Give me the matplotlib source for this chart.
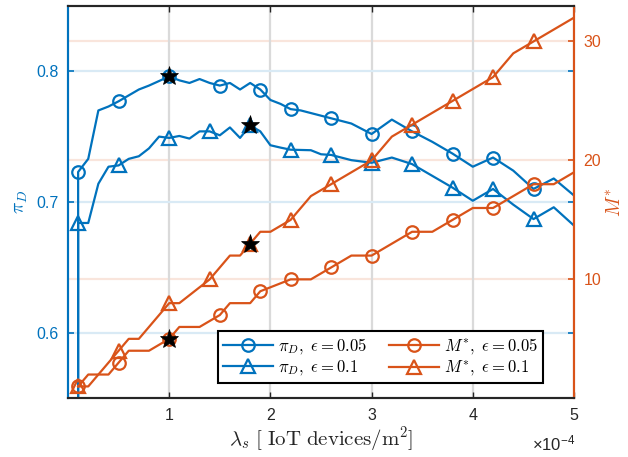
import matplotlib
matplotlib.use('Agg')
import matplotlib.pyplot as plt
from matplotlib.transforms import blended_transform_factory

plt.rcParams['font.family'] = ['Liberation Sans', 'DejaVu Sans']
plt.rcParams['mathtext.fontset'] = 'cm'

BLUE = '#0072BD'
ORANGE = '#D95319'
DARK = '#262626'

# lambda_s in units of 1e-4 IoT devices/m^2 (line vertices)
lam_pi05 = [0.1, 0.1, 0.2, 0.3, 0.4, 0.5, 0.7, 0.8, 1.0, 1.1, 1.2, 1.3, 1.4, 1.5, 1.6, 1.7, 1.8,
            1.9, 2.0, 2.1, 2.2, 2.3, 2.4, 2.6, 2.8, 3.0, 3.2, 3.4, 3.6, 3.8, 4.0, 4.2, 4.4, 4.6,
            4.8, 5.0]
pi05 = [0.45, 0.723, 0.733, 0.770, 0.773, 0.777, 0.786, 0.789, 0.796, 0.793, 0.791, 0.794, 0.791,
        0.789, 0.791, 0.786, 0.791, 0.786, 0.778, 0.775, 0.771, 0.770, 0.768, 0.764, 0.760, 0.752,
        0.763, 0.754, 0.746, 0.737, 0.727, 0.734, 0.724, 0.710, 0.718, 0.705]

lam_pi1 = [0.1, 0.1, 0.2, 0.3, 0.4, 0.5, 0.6, 0.7, 0.8, 0.9, 1.0, 1.1, 1.2, 1.3, 1.4, 1.5, 1.6,
           1.7, 1.8, 1.9, 2.0, 2.1, 2.2, 2.4, 2.5, 2.6, 2.8, 3.0, 3.2, 3.4, 3.6, 3.8, 4.0, 4.2,
           4.4, 4.6, 4.8, 5.0]
pi1 = [0.45, 0.684, 0.684, 0.714, 0.727, 0.728, 0.733, 0.735, 0.741, 0.750, 0.749, 0.7505, 0.7485,
       0.754, 0.754, 0.751, 0.757, 0.749, 0.7586, 0.754, 0.7434, 0.7416, 0.740, 0.7396, 0.7365,
       0.736, 0.732, 0.730, 0.734, 0.729, 0.720, 0.711, 0.701, 0.710, 0.698, 0.687, 0.696, 0.682]

lam_M05 = [0.1, 0.2, 0.4, 0.5, 0.6, 0.8, 1.0, 1.1, 1.3, 1.5, 1.6, 1.8, 1.9, 2.2, 2.4, 2.6, 2.8,
           3.0, 3.2, 3.4, 3.6, 3.8, 4.0, 4.2, 4.4, 4.6, 4.8, 5.0]
M05 = [1, 2, 2, 3, 4, 4, 5, 6, 6, 7, 8, 8, 9, 10, 10, 11, 12, 12, 13, 14, 14, 15, 16, 16, 17, 18,
       18, 19]

lam_M1 = [0.1, 0.2, 0.5, 0.6, 0.7, 1.0, 1.1, 1.4, 1.6, 1.7, 1.8, 1.9, 2.0, 2.2, 2.4, 2.6, 3.0,
          3.2, 3.4, 3.8, 4.2, 4.4, 4.6, 5.0]
M1 = [1, 1, 4, 5, 5, 8, 8, 10, 12, 12, 13, 14, 14, 15, 17, 18, 20, 22, 23, 25, 27, 29, 30, 32]

# where the markers sit
mark05 = [0.1, 0.5, 1.0, 1.5, 1.9, 2.2, 2.6, 3.0, 3.4, 3.8, 4.2, 4.6]
mark1 = [0.1, 0.5, 1.0, 1.4, 1.8, 2.2, 2.6, 3.0, 3.4, 3.8, 4.2, 4.6]

# optimum points (stars)
star05 = 1.0
star1 = 1.8


def idx(lams, marks):
    return [i for i, l in enumerate(lams) if l in marks]


fig = plt.figure(figsize=(6.28, 4.57), dpi=100)
ax1 = fig.add_axes([0.1083, 0.1284, 0.8057, 0.859])
ax2 = ax1.twinx()

lw = 1.6
ms = 9
h1, = ax1.plot(lam_pi05, pi05, color=BLUE, lw=lw, marker='o', ms=ms, mfc='none', mew=1.6,
               markevery=idx(lam_pi05, mark05), label=r'$\pi_D,\ \epsilon=0.05$')
h2, = ax1.plot(lam_pi1, pi1, color=BLUE, lw=lw, marker='^', ms=ms + 1, mfc='none', mew=1.6,
               markevery=idx(lam_pi1, mark1), label=r'$\pi_D,\ \epsilon=0.1$')
h3, = ax2.plot(lam_M05, M05, color=ORANGE, lw=lw, marker='o', ms=ms, mfc='none', mew=1.6,
               markevery=idx(lam_M05, mark05), label=r'$M^{*},\ \epsilon=0.05$')
h4, = ax2.plot(lam_M1, M1, color=ORANGE, lw=lw, marker='^', ms=ms + 1, mfc='none', mew=1.6,
               markevery=idx(lam_M1, mark1), label=r'$M^{*},\ \epsilon=0.1$')

ax1.plot([star05, star1], [pi05[lam_pi05.index(star05)], pi1[lam_pi1.index(star1)]],
         ls='none', marker='*', ms=14, color='black', mec='black', mew=0.5, zorder=5)
ax2.plot([star05, star1], [M05[lam_M05.index(star05)], M1[lam_M1.index(star1)]],
         ls='none', marker='*', ms=14, color='black', mec='black', mew=0.5, zorder=5)

ax1.set_xlim(0, 5)
ax1.set_ylim(0.55, 0.85)
ax2.set_ylim(0, 33)
ax1.set_xticks([1, 2, 3, 4, 5])
ax1.set_yticks([0.6, 0.7, 0.8])
ax2.set_yticks([10, 20, 30])

# grids: gray vertical, blue for left ticks, orange for right ticks (all behind the data)
ax1.grid(axis='x', color='#dadada', lw=1.6, zorder=0)
ax1.grid(axis='y', color='#d9eaf5', lw=1.6, zorder=0)
trans = blended_transform_factory(ax1.transAxes, ax2.transData)
for m in [10, 20, 30]:
    ax1.plot([0, 1], [m, m], transform=trans, color='#f9e5dc', lw=1.6, zorder=0.5)

ax1.tick_params(axis='x', direction='in', top=True, length=4, width=1, colors=DARK,
                labelsize=11.5, pad=7)
ax1.tick_params(axis='y', direction='in', right=True, length=4, width=1.2, colors=BLUE,
                labelsize=11.5, pad=7)
ax2.tick_params(axis='y', direction='in', length=4, width=1.2, colors=ORANGE, labelsize=11.5,
                pad=7)

for ax in (ax1, ax2):
    for s in ax.spines.values():
        s.set_linewidth(1.5)
    ax.spines['top'].set_color(DARK)
    ax.spines['bottom'].set_color(DARK)
    ax.spines['left'].set_color(BLUE)
    ax.spines['right'].set_color(ORANGE)

ax1.set_xlabel(r'$\lambda_s\ [\ \mathrm{IoT\ devices/m^2}]$', fontsize=15, color=DARK, labelpad=1)
ax1.set_ylabel(r'$\pi_D$', fontsize=14, color=BLUE, labelpad=4)
ax2.set_ylabel(r'$M^{*}$', fontsize=14, color=ORANGE, labelpad=3)
fig.text(575 / 628, 1 - 453 / 457, r'$\mathregular{\times10^{-4}}$', fontsize=12, color=DARK,
         ha='right', va='bottom')

leg = ax2.legend([h1, h2, h3, h4], [h.get_label() for h in (h1, h2, h3, h4)], ncol=2,
                 loc='center', bbox_to_anchor=(0.618, 0.105), fontsize=12, frameon=True,
                 fancybox=False, framealpha=1, edgecolor='black', handlelength=3.0,
                 columnspacing=1.3, labelspacing=0.15, borderpad=0.3, handletextpad=0.3)
leg.get_frame().set_linewidth(1.5)

fig.savefig('out.png', dpi=100)
